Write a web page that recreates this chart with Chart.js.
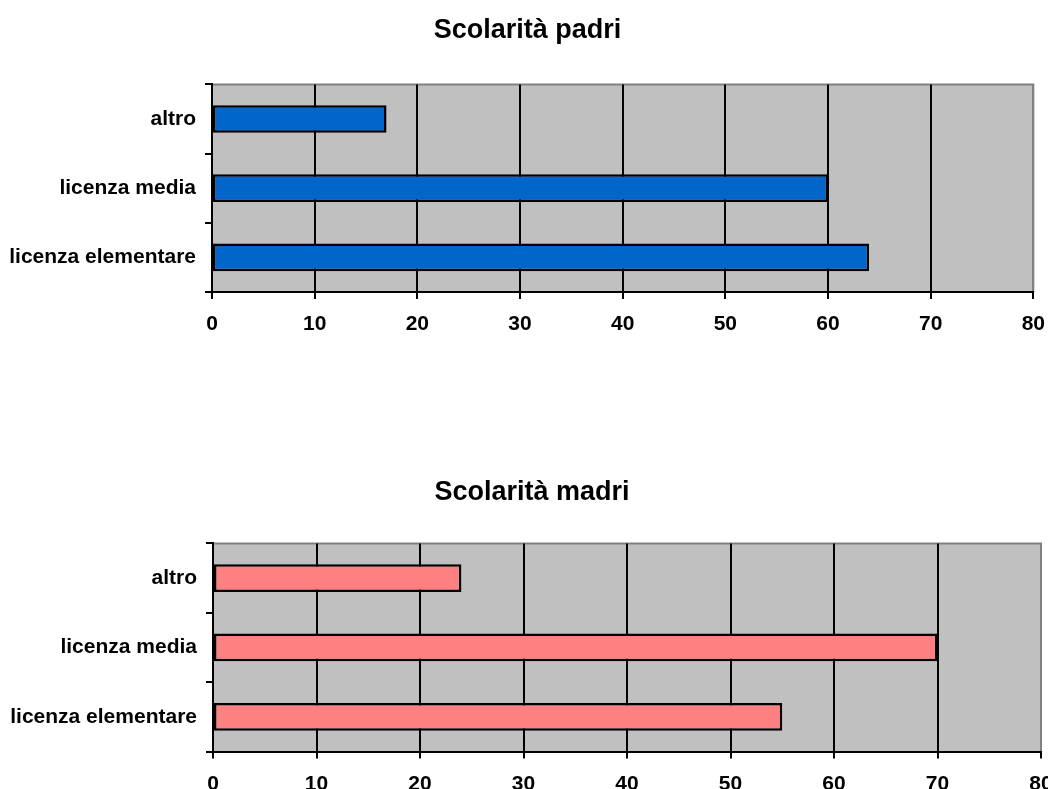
<!DOCTYPE html>
<html lang="it">
  <head>
    <meta charset="UTF-8" />
    <meta
      name="viewport"
      content="width=device-width, initial-scale=1.0" />
    <title>Scolarità</title>
    <style>
      *,
      *::after,
      *::before {
        margin: 0;
        padding: 0;
      }

      body {
        width: 1048px;
        height: 789px;
        overflow: hidden;
        position: relative;
        background: #fff;
      }

      .box {
        position: absolute;
        left: 0;
      }
    </style>
  </head>
  <body>
    <div class="box" id="box1" style="top: 0; width: 1058px; height: 350px">
      <canvas id="padriChart"></canvas>
    </div>
    <div class="box" id="box2" style="top: 460px; width: 1070px; height: 350px">
      <canvas id="madriChart"></canvas>
    </div>

    <script src="https://cdn.jsdelivr.net/npm/chart.js@4/dist/chart.umd.min.js"></script>
    <script>
      const categories = ['altro', 'licenza media', 'licenza elementare']
      const padri = [17, 60, 64]
      const madri = [24, 70, 55]
      const xMin = 0
      const xMax = 80
      const xStep = 10

      const FONT = '"Liberation Sans", Arial, sans-serif'

      // grey plot area with grey frame on top and right
      const plotFrame = {
        id: 'plotFrame',
        beforeDraw(chart) {
          const { ctx, chartArea: a } = chart
          ctx.save()
          ctx.fillStyle = '#c0c0c0'
          ctx.fillRect(a.left, a.top, a.right - a.left, a.bottom - a.top)
          ctx.strokeStyle = '#808080'
          ctx.lineWidth = 2
          ctx.beginPath()
          ctx.moveTo(a.left, a.top)
          ctx.lineTo(a.right, a.top)
          ctx.lineTo(a.right, a.bottom)
          ctx.stroke()
          ctx.restore()
        }
      }

      // nudge the centred title a bit to the right
      const titleShift = {
        id: 'titleShift',
        afterLayout(chart, args, options) {
          if (chart.titleBlock) chart.titleBlock.left += options.left || 0
        }
      }

      function drawChart(id, title, values, color, opts) {
        const ctx = document.getElementById(id)
        return new Chart(ctx, {
          type: 'bar',
          data: {
            labels: categories,
            datasets: [
              {
                data: values,
                backgroundColor: color,
                borderColor: '#000',
                borderWidth: 2.5,
                borderSkipped: false,
                barPercentage: 0.4,
                categoryPercentage: 1
              }
            ]
          },
          options: {
            indexAxis: 'y',
            responsive: true,
            maintainAspectRatio: false,
            animation: false,
            layout: {
              padding: { left: 0, right: opts.right, top: 0, bottom: 0 }
            },
            plugins: {
              legend: { display: false },
              tooltip: { enabled: false },
              titleShift: { left: opts.shift },
              title: {
                display: true,
                text: title,
                color: '#000',
                font: { family: FONT, size: 27, weight: 'bold' },
                padding: { top: opts.titleTop, bottom: opts.titleBottom }
              }
            },
            scales: {
              x: {
                min: xMin,
                max: xMax,
                afterFit: (s) => {
                  s.height = opts.xHeight
                },
                ticks: {
                  stepSize: xStep,
                  color: '#000',
                  padding: 13,
                  maxRotation: 0,
                  font: { family: FONT, size: 21, weight: 'bold' }
                },
                grid: {
                  color: (c) => (c.tick && c.tick.value === xMax ? '#808080' : '#000'),
                  lineWidth: 2,
                  tickColor: '#000',
                  tickLength: 7
                },
                border: { display: true, color: '#000', width: 2 }
              },
              y: {
                afterFit: (s) => {
                  s.width = opts.yWidth
                },
                ticks: {
                  color: '#000',
                  padding: 9,
                  font: { family: FONT, size: 21, weight: 'bold' }
                },
                grid: {
                  offset: true,
                  drawOnChartArea: false,
                  color: '#000',
                  lineWidth: 2,
                  tickLength: 7
                },
                border: { display: true, color: '#000', width: 2 }
              }
            }
          },
          plugins: [plotFrame, titleShift]
        })
      }

      drawChart('padriChart', 'Scolarità padri', padri, '#0066cc', {
        shift: 21,
        right: 24,
        titleTop: 14,
        titleBottom: 38,
        xHeight: 58,
        yWidth: 212
      })

      drawChart('madriChart', 'Scolarità madri', madri, '#ff8080', {
        shift: 23,
        right: 29,
        titleTop: 16,
        titleBottom: 35,
        xHeight: 58.5,
        yWidth: 213
      })
    </script>
  </body>
</html>
